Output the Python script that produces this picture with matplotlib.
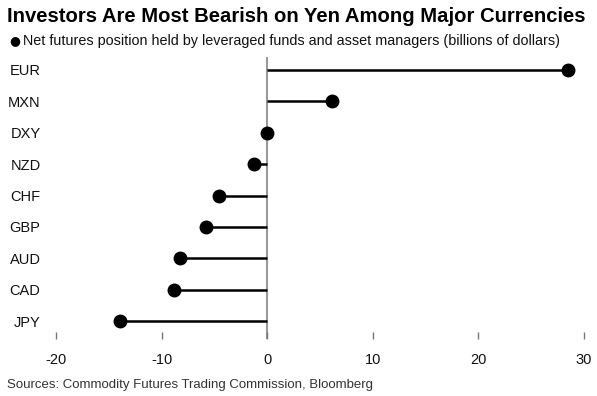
import matplotlib
matplotlib.use("Agg")
import matplotlib.pyplot as plt

plt.rcParams['font.family'] = ['Liberation Sans', 'DejaVu Sans']

currencies = ["EUR", "MXN", "DXY", "NZD", "CHF", "GBP", "AUD", "CAD", "JPY"]
positions = [28.5, 6.1, 0.0, -1.3, -4.55, -5.85, -8.25, -8.85, -14.0]
xticks = [-20, -10, 0, 10, 20, 30]

W, H = 597, 396
fig = plt.figure(figsize=(W / 100, H / 100), dpi=100)

# axes placed in pixel terms: left 40.5, right 591.2, top 57, bottom 339
ax = fig.add_axes([40.5 / W, 1 - 339 / H, (591.2 - 40.5) / W, (339 - 57) / H])

ys = list(range(len(currencies)))
ax.axvline(0, color="#999999", lw=1.5, zorder=1)
ax.hlines(ys, 0, positions, color="black", lw=1.8, zorder=2)
ax.plot(positions, ys, "o", color="black", ms=9, zorder=3)

ax.set_xlim(-21.5, 30.7)
ax.set_ylim(8 + 18 / 31.4, -13 / 31.4)
ax.set_xticks(xticks)
ax.set_xticklabels([str(t) for t in xticks])
ax.set_yticks(ys)
ax.set_yticklabels(currencies)

for s in ax.spines.values():
    s.set_visible(False)
ax.tick_params(axis="x", direction="in", length=5, width=1, color="#777777",
               pad=10, labelsize=10.5, labelcolor="#111111")
ax.tick_params(axis="y", length=0, pad=0, labelsize=10.5, labelcolor="#111111")

fig.text(7 / W, 1 - 17 / H, "Investors Are Most Bearish on Yen Among Major Currencies",
         fontsize=14.6, fontweight="bold", va="center", ha="left", color="black")
fig.text(9 / W, 1 - 41 / H, "\u25cf", fontsize=9, va="center", ha="left",
         family=["DejaVu Sans"], color="black")
fig.text(23 / W, 1 - 41 / H,
         "Net futures position held by leveraged funds and asset managers (billions of dollars)",
         fontsize=10.4, va="center", ha="left", color="#111111")
fig.text(7 / W, 1 - 385 / H, "Sources: Commodity Futures Trading Commission, Bloomberg",
         fontsize=9.5, va="center", ha="left", color="#333333")

fig.savefig("out.png", dpi=100)
